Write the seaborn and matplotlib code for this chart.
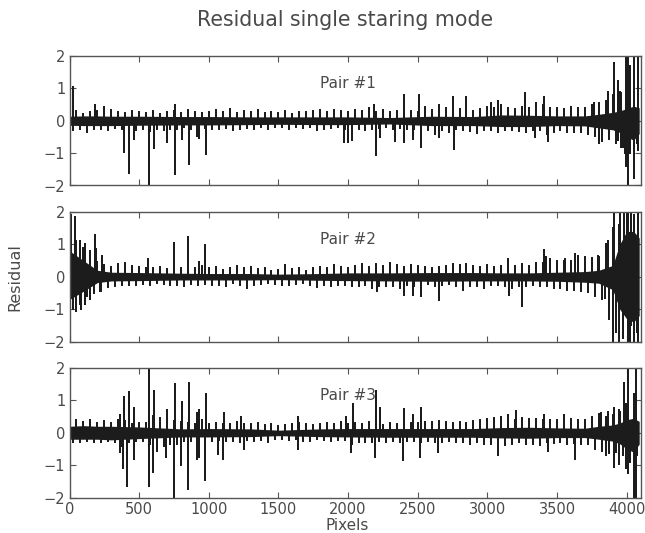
import numpy as np
import pandas as pd
import matplotlib
matplotlib.use("Agg")
import matplotlib.pyplot as plt
import seaborn as sns

# values
band_px = [0, 100, 200, 300, 500, 800, 1000, 1300, 1500, 1800, 2000, 2300, 2600, 2900, 3100, 3300, 3500, 3700, 3800, 3900, 3950, 4000, 4050, 4090]

band_hi_1 = [0.14, 0.15, 0.15, 0.14, 0.14, 0.13, 0.13, 0.12, 0.12, 0.12, 0.12, 0.1, 0.14, 0.13, 0.18, 0.17, 0.15, 0.15, 0.2, 0.26, 0.3, 0.38, 0.45, 0.4]
band_lo_1 = [-0.14, -0.15, -0.15, -0.15, -0.14, -0.13, -0.13, -0.12, -0.11, -0.12, -0.12, -0.1, -0.15, -0.15, -0.18, -0.18, -0.15, -0.16, -0.22, -0.28, -0.36, -0.5, -0.6, -0.4]
band_hi_2 = [0.8, 0.5, 0.2, 0.14, 0.13, 0.11, 0.1, 0.1, 0.08, 0.1, 0.12, 0.12, 0.13, 0.13, 0.12, 0.12, 0.14, 0.16, 0.2, 0.35, 1.0, 1.4, 1.4, 1.2]
band_lo_2 = [-0.7, -0.45, -0.18, -0.13, -0.12, -0.1, -0.1, -0.1, -0.09, -0.11, -0.12, -0.13, -0.14, -0.13, -0.13, -0.13, -0.14, -0.17, -0.2, -0.4, -1.0, -1.3, -1.4, -1.2]
band_hi_3 = [0.2, 0.22, 0.2, 0.2, 0.18, 0.12, 0.13, 0.12, 0.08, 0.12, 0.13, 0.13, 0.13, 0.13, 0.16, 0.17, 0.15, 0.14, 0.2, 0.24, 0.3, 0.4, 0.45, 0.35]
band_lo_3 = [-0.2, -0.2, -0.2, -0.22, -0.18, -0.13, -0.13, -0.12, -0.09, -0.12, -0.13, -0.14, -0.14, -0.14, -0.16, -0.17, -0.15, -0.15, -0.2, -0.26, -0.34, -0.5, -0.6, -0.35]

# one short stick every 25 pixels
fringe_1 = [
    0.28, -0.3, 0.3, -0.25, 0.22, -0.35, 0.27, -0.24, 0.3, -0.26, 0.42, -0.3, 0.34, -0.22, 0.26, -0.25, 0.24, -0.28, 0.3, -0.3,
    0.27, -0.24, 0.25, -0.32, 0.3, -0.26, 0.22, -0.28, 0.26, -0.24, 0.3, -0.25, 0.24, -0.2, 0.34, -0.26, 0.27, -0.3, 0.24, -0.22,
    0.28, -0.27, 0.33, -0.24, 0.26, -0.22, 0.36, -0.3, 0.25, -0.24, 0.3, -0.22, 0.27, -0.26, 0.32, -0.2, 0.25, -0.24, 0.28, -0.2,
    0.24, -0.18, 0.3, -0.24, 0.22, -0.2, 0.27, -0.22, 0.26, -0.2, 0.3, -0.28, 0.32, -0.24, 0.28, -0.22, 0.34, -0.2, 0.3, -0.24,
    0.26, -0.3, 0.34, -0.25, 0.3, -0.28, 0.4, -0.25, 0.28, -0.22, 0.34, -0.2, 0.28, -0.24, 0.3, -0.22, 0.36, -0.26, 0.3, -0.24,
    0.28, -0.36, 0.42, -0.3, 0.34, -0.4, 0.32, -0.28, 0.38, -0.35, 0.3, -0.26, 0.36, -0.3, 0.34, -0.32, 0.3, -0.38, 0.36, -0.3,
    0.44, -0.3, 0.38, -0.36, 0.5, -0.3, 0.4, -0.28, 0.36, -0.32, 0.44, -0.36, 0.4, -0.3, 0.35, -0.3, 0.48, -0.4, 0.4, -0.34,
    0.38, -0.3, 0.36, -0.36, 0.42, -0.34, 0.4, -0.36, 0.38, -0.42, 0.48, -0.46, 0.55, -0.62, 0.6, -0.55, 0.78, -0.7, 0.9, -0.8,
    1.1, -1.0, 1.2, -0.7,
]
fringe_2 = [
    1.6, -1.0, 1.1, -0.85, 0.9, -0.6, 0.7, -0.5, 0.45, -0.45, 0.35, -0.32, 0.3, -0.28, 0.38, -0.25, 0.42, -0.26, 0.34, -0.26,
    0.3, -0.22, 0.28, -0.25, 0.26, -0.2, 0.3, -0.22, 0.24, -0.26, 0.32, -0.24, 0.26, -0.3, 0.27, -0.22, 0.28, -0.24, 0.32, -0.22,
    0.26, -0.24, 0.3, -0.25, 0.22, -0.28, 0.26, -0.2, 0.32, -0.24, 0.26, -0.36, 0.3, -0.25, 0.24, -0.22, 0.26, -0.2, 0.18, -0.22,
    0.2, -0.24, 0.36, -0.25, 0.24, -0.22, 0.26, -0.2, 0.18, -0.26, 0.28, -0.32, 0.3, -0.25, 0.28, -0.3, 0.36, -0.25, 0.3, -0.26,
    0.28, -0.3, 0.34, -0.3, 0.4, -0.25, 0.3, -0.36, 0.38, -0.28, 0.34, -0.3, 0.42, -0.3, 0.36, -0.35, 0.3, -0.25, 0.36, -0.3,
    0.34, -0.26, 0.3, -0.22, 0.28, -0.3, 0.3, -0.24, 0.34, -0.22, 0.38, -0.28, 0.36, -0.42, 0.4, -0.3, 0.34, -0.3, 0.3, -0.35,
    0.36, -0.26, 0.3, -0.25, 0.34, -0.3, 0.55, -0.36, 0.34, -0.28, 0.38, -0.3, 0.34, -0.25, 0.44, -0.28, 0.42, -0.3, 0.55, -0.36,
    0.5, -0.34, 0.48, -0.4, 0.5, -0.42, 0.55, -0.45, 0.62, -0.48, 0.58, -0.6, 0.6, -0.68, 1.0, -1.3, 1.5, -1.7, 2.0, -1.9,
    2.0, -2.0, 1.9, -1.7,
]
fringe_3 = [
    0.42, -0.3, 0.4, -0.28, 0.34, -0.26, 0.38, -0.3, 0.3, -0.28, 0.36, -0.26, 0.3, -0.3, 0.4, -0.42, 0.35, -0.3, 0.28, -0.26,
    0.3, -0.24, 0.3, -0.35, 0.52, -0.55, 0.45, -0.4, 0.42, -0.35, 0.36, -0.34, 0.34, -0.26, 0.3, -0.24, 0.26, -0.22, 0.38, -0.22,
    0.28, -0.24, 0.3, -0.22, 0.28, -0.26, 0.26, -0.24, 0.32, -0.3, 0.26, -0.22, 0.26, -0.24, 0.3, -0.22, 0.24, -0.3, 0.26, -0.2,
    0.2, -0.18, 0.24, -0.22, 0.26, -0.2, 0.3, -0.24, 0.28, -0.26, 0.24, -0.2, 0.28, -0.22, 0.3, -0.24, 0.26, -0.22, 0.34, -0.22,
    0.28, -0.35, 0.3, -0.3, 0.26, -0.28, 0.34, -0.3, 0.28, -0.26, 0.25, -0.3, 0.3, -0.24, 0.28, -0.3, 0.36, -0.26, 0.3, -0.24,
    0.3, -0.28, 0.34, -0.24, 0.32, -0.28, 0.36, -0.3, 0.32, -0.26, 0.3, -0.3, 0.34, -0.28, 0.3, -0.34, 0.36, -0.3, 0.38, -0.36,
    0.42, -0.34, 0.46, -0.36, 0.5, -0.38, 0.42, -0.34, 0.4, -0.3, 0.46, -0.34, 0.42, -0.35, 0.44, -0.38, 0.4, -0.3, 0.38, -0.32,
    0.4, -0.3, 0.36, -0.34, 0.42, -0.32, 0.38, -0.34, 0.4, -0.36, 0.5, -0.5, 0.58, -0.55, 0.5, -0.62, 0.56, -0.6, 0.64, -0.7,
    0.9, -0.9, 0.7, -0.7,
]

spike_px_1 = [24, 180, 388, 426, 464, 574, 605, 703, 756, 756, 809, 861, 914, 933, 981, 1974, 1998, 2030, 2189, 2201, 2232, 2340, 2400, 2400, 2465, 2512, 2520, 2656, 2656, 2752, 2764, 2847, 3027, 3075, 3271, 3350, 3340, 3405, 3438, 3769, 3805, 3869, 3912, 3936, 3936, 3960, 3960, 3985, 3996, 3996, 4013, 4013, 4027, 4027, 4056, 4056, 4080, 4080]
spike_val_1 = [1.05, 0.5, -0.98, -1.6, -0.55, -2.0, -0.85, -0.67, -1.63, 0.5, -0.57, -1.34, -0.46, -0.52, -1.03, -0.67, -0.65, -0.6, 0.5, -1.05, -0.5, -0.64, -0.67, 0.8, -0.55, 0.78, -0.8, -0.5, 0.5, 0.72, -0.88, 0.72, 0.55, 0.6, 0.85, 0.55, -0.5, 0.72, -0.62, 0.55, -0.7, 0.88, 1.77, 1.24, -0.6, 0.85, -0.8, -1.0, 2.0, -1.4, 2.0, -2.0, 1.7, -1.0, 2.0, -1.76, 2.0, -0.9]

spike_px_2 = [12, 24, 36, 36, 48, 76, 84, 108, 108, 144, 144, 184, 191, 232, 220, 567, 751, 854, 929, 971, 2206, 2400, 2465, 2520, 2656, 3155, 3247, 3410, 3422, 3555, 3632, 3650, 3795, 3845, 3864, 3900, 3907, 3924, 3948, 3948, 3979, 3979, 4007, 4007, 4032, 4032, 4051, 4080, 4080]
spike_val_2 = [1.9, -0.9, 1.85, -0.5, -1.05, 1.1, -1.0, 1.0, -0.85, 0.8, -0.7, 1.3, 0.85, 0.65, -0.45, 0.55, 1.03, 1.23, 0.45, 0.98, -0.45, -0.55, -0.55, -0.6, -0.72, -0.55, -0.9, 0.82, 0.6, 0.55, 0.7, 0.65, 0.65, -0.65, 1.1, -2.0, 2.0, -1.2, -2.0, 1.6, 2.0, -1.1, 2.0, -2.0, 2.0, -1.5, -2.0, 2.0, -2.0]

spike_px_3 = [359, 359, 388, 383, 424, 416, 460, 460, 574, 569, 605, 600, 701, 696, 758, 749, 811, 804, 861, 854, 914, 914, 933, 933, 981, 974, 1067, 1110, 1105, 1228, 1252, 1637, 1642, 1986, 2022, 2034, 2201, 2194, 2232, 2400, 2395, 2465, 2520, 2515, 2644, 3075, 3147, 3206, 3410, 3438, 3553, 3630, 3817, 3853, 3865, 3907, 3907, 3948, 3948, 3979, 3996, 3996, 4013, 4013, 4056, 4056, 4068, 4068]
spike_val_3 = [0.55, -0.6, 1.1, -1.1, 1.25, -1.65, 0.75, -0.8, 2.0, -1.65, 1.3, -1.2, 0.7, -0.75, 1.5, -2.0, 0.95, -1.0, 1.55, -1.75, 0.6, -0.8, 0.7, -0.75, 1.2, -1.45, -0.65, 0.6, -0.8, 0.5, -0.5, 0.5, -0.5, 0.5, -0.6, 0.9, 1.3, -0.75, 0.75, 0.72, -0.85, 0.55, 0.75, -0.75, -0.6, -0.7, 0.55, 0.68, 0.55, -0.55, 0.55, -0.82, 0.6, -0.7, 0.65, 0.75, -1.05, 0.7, -0.95, 1.55, 0.9, -1.1, 2.0, -1.25, 1.2, -2.0, 2.0, -2.0]

x_ticks = [0, 500, 1000, 1500, 2000, 2500, 3000, 3500, 4000]
y_ticks = [-2, -1, 0, 1, 2]
pair_labels = ["Pair #1", "Pair #2", "Pair #3"]

panels = [
    (band_hi_1, band_lo_1, fringe_1, spike_px_1, spike_val_1),
    (band_hi_2, band_lo_2, fringe_2, spike_px_2, spike_val_2),
    (band_hi_3, band_lo_3, fringe_3, spike_px_3, spike_val_3),
]

sns.set_style("white")
plt.rcParams["font.family"] = "DejaVu Sans"
plt.rcParams["xtick.direction"] = "in"
plt.rcParams["ytick.direction"] = "in"
plt.rcParams["xtick.top"] = True
plt.rcParams["ytick.right"] = True
plt.rcParams["xtick.bottom"] = True
plt.rcParams["ytick.left"] = True

text_col = "#4a4a4a"
line_col = "#1c1c1c"

W, H = 645, 533
fig = plt.figure(figsize=(W / 100, H / 100), dpi=100)
tops = [56, 212, 368]
axes = [fig.add_axes([69.5 / W, 1 - (t + 129.5) / H, 571.5 / W, 129.5 / H]) for t in tops]


def sticks(px, vals):
    # every value drawn as a vertical stick from zero and back
    return pd.DataFrame({
        "Pixels": np.repeat(px, 3),
        "Residual": np.column_stack([np.zeros(len(vals)), vals, np.zeros(len(vals))]).ravel(),
    })


for ax, label, (hi, lo, fringe, sp_px, sp_val) in zip(axes, pair_labels, panels):
    fringe_px = np.arange(len(fringe)) * 25
    ax.fill_between(band_px, lo, hi, color=line_col, lw=0)
    sns.lineplot(data=sticks(fringe_px, fringe), x="Pixels", y="Residual", ax=ax,
                 estimator=None, sort=False, color=line_col, lw=1.2)
    sns.lineplot(data=sticks(sp_px, sp_val), x="Pixels", y="Residual", ax=ax,
                 estimator=None, sort=False, color=line_col, lw=1.3)
    ax.set_xlim(0, 4103)
    ax.set_ylim(-2, 2)
    ax.set_xticks(x_ticks)
    ax.set_yticks(y_ticks)
    ax.set_xlabel("")
    ax.set_ylabel("")
    ax.tick_params(length=4, width=0.8, color="#555555", labelcolor=text_col, labelsize=10.5, pad=3)
    ax.text(2000, 1.15, label, ha="center", va="center", fontsize=11, color=text_col)
    for s in ax.spines.values():
        s.set_color("#555555")
        s.set_linewidth(1.0)

for ax in axes[:2]:
    ax.tick_params(labelbottom=False)

fig.text(345 / W, 1 - 20 / H, "Residual single staring mode", ha="center", va="center", fontsize=14.8, color=text_col)
fig.text(347 / W, 1 - 525 / H, "Pixels", ha="center", va="center", fontsize=11, color=text_col)
fig.text(15 / W, 1 - 277 / H, "Residual", ha="center", va="center", rotation=90, fontsize=11.5, color=text_col)

fig.savefig("out.png", dpi=100)
